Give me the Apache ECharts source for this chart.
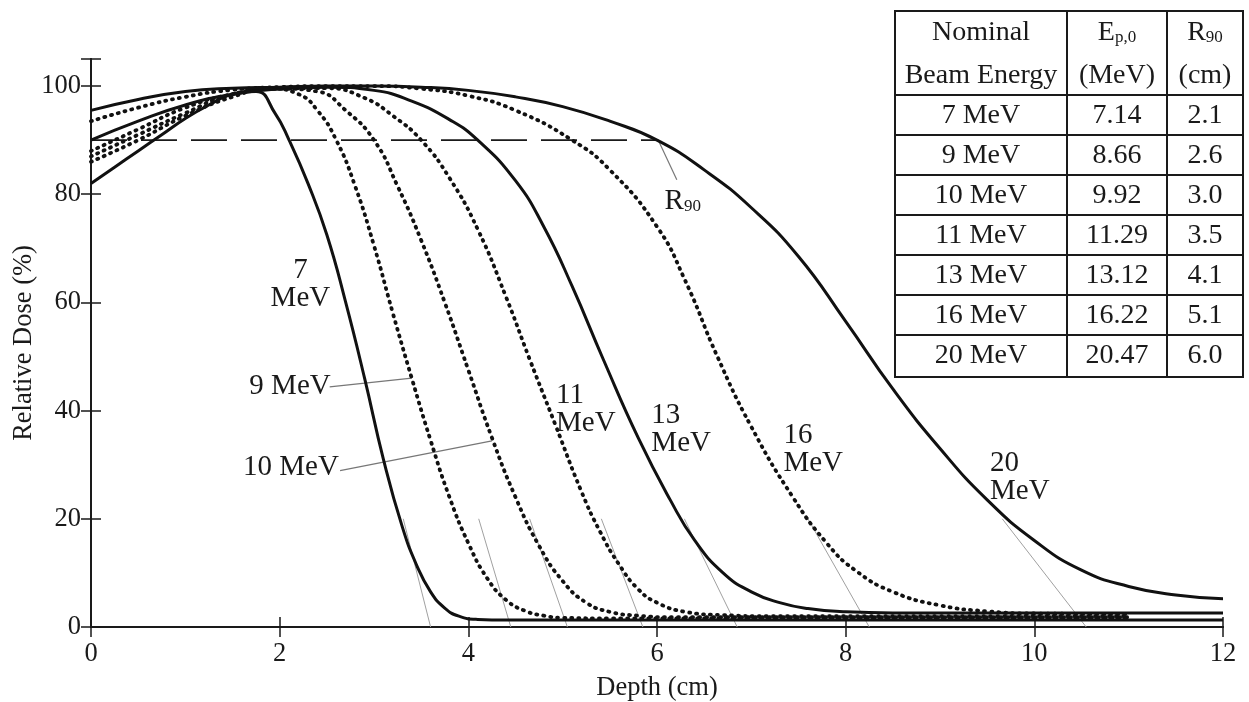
<!DOCTYPE html>
<html><head><meta charset="utf-8">
<script src="https://cdn.jsdelivr.net/npm/echarts@6/dist/echarts.min.js"></script>
<style>html,body{margin:0;padding:0;background:#fff}#chart{width:1249px;height:702px}</style>
</head><body><div id="chart"></div>
<script>
// Depth-dose curves: [depth (cm), relative dose (%)]
const dose7 = [[0,82],[0.25,85],[0.5,88],[0.75,91],[1.0,94],[1.25,96.5],[1.5,98.5],[1.75,99],[1.95,95],[2.1,90],[2.3,82],[2.5,72.5],[2.7,60],[2.9,46],[3.1,31],[3.3,18.5],[3.45,11.5],[3.6,6.5],[3.75,3.5],[3.9,2],[4.1,1.4],[4.4,1.3],[12,1.3]];
const dose9 = [[0,86],[0.5,90],[1.0,94.5],[1.5,98],[1.9,99.5],[2.2,98.5],[2.4,95.5],[2.6,90],[2.8,81.5],[3.0,70.5],[3.2,58],[3.4,46],[3.6,34.5],[3.8,24],[4.0,15.5],[4.2,9],[4.4,5],[4.6,3],[4.8,2.1],[5.0,1.7],[5.5,1.6],[11,1.6]];
const dose10 = [[0,87],[0.5,91],[1.0,95],[1.5,98.5],[2.0,99.5],[2.4,99],[2.7,95.5],[3.0,90],[3.25,81.5],[3.5,71.5],[3.75,60],[4.0,47.5],[4.25,35],[4.5,24],[4.75,15],[5.0,8.5],[5.25,4.5],[5.5,2.8],[5.8,2.1],[6.2,1.8],[11,1.8]];
const dose11 = [[0,88],[0.5,92],[1.0,96],[1.5,98.5],[2.0,99.5],[2.5,99.6],[2.9,97.8],[3.2,94.5],[3.5,90],[3.8,83],[4.1,73.5],[4.4,61],[4.65,49.5],[4.92,37.5],[5.2,25],[5.4,17.5],[5.6,11.5],[5.8,7],[6.0,4.5],[6.3,2.8],[6.7,2.2],[7.2,2.0],[11,2.0]];
const dose13 = [[0,90],[0.5,93.5],[1.0,96.5],[1.5,98.5],[2.0,99.5],[2.5,99.8],[3.0,99.2],[3.4,97.2],[3.8,93.8],[4.1,90],[4.5,82.5],[4.8,74],[5.1,63],[5.43,49.5],[5.8,35],[6.14,23.5],[6.4,16],[6.7,10],[7.0,6.5],[7.3,4.5],[7.6,3.4],[8.0,2.8],[8.5,2.6],[12,2.6]];
const dose16 = [[0,93.5],[0.5,96],[1.0,98],[1.5,99.3],[2.0,99.8],[2.5,100],[3.0,100],[3.5,99.5],[4.0,98.2],[4.5,95.5],[5.1,90],[5.5,84.5],[6.0,74],[6.3,64],[6.64,50],[7.0,37],[7.44,24],[7.8,15.5],[8.1,10.5],[8.5,6.5],[9.0,4],[9.5,2.9],[10,2.5],[11,2.4]];
const dose20 = [[0,95.5],[0.5,97.5],[1.0,99],[1.5,99.6],[2.0,99.8],[2.5,100],[3.0,100],[3.5,99.8],[4.0,99.2],[4.5,98],[5.0,96.2],[5.5,93.5],[6.0,90],[6.5,84.5],[7.0,77.5],[7.5,68.5],[8.0,56.5],[8.5,44],[9.0,33],[9.5,23.5],[10.0,16],[10.5,10.5],[11.0,7.5],[11.5,5.9],[12,5.2]];

// 90 % reference level, drawn out to the deepest R90
const r90Level = [[0,90],[6.0,90]];

// Practical-range extrapolation lines: upper point on each falloff, and Rp on the axis
const rpUpper = [[3.31,20],[4.11,20],[4.65,20],[5.41,20],[6.29,20],[7.6,20],[9.66,20]];
const practicalRange = [3.6,4.45,5.05,5.85,6.85,8.25,10.55];

// Leader lines for annotations
const pointer9 = [[2.53,44.4],[3.40,46.0]];
const pointer10 = [[2.64,28.9],[4.25,34.4]];
const pointerR90 = [[6.01,90.1],[6.21,82.7]];

// In-plot annotations (anchor in data coordinates)
const curveLabels = [
  {text:'7\nMeV', at:[2.22,63.4], align:'center'},
  {text:'9 MeV', at:[2.11,44.4], align:'center'},
  {text:'10 MeV', at:[2.12,29.5], align:'center'},
  {text:'11\nMeV', at:[4.93,40.3], align:'left'},
  {text:'13\nMeV', at:[5.94,36.5], align:'left'},
  {text:'16\nMeV', at:[7.34,32.8], align:'left'},
  {text:'20\nMeV', at:[9.53,27.6], align:'left'},
  {text:'{m|R}{s|90}', at:[6.08,78.6], align:'left'}
];

// Beam data table
const tableHeader = [['Nominal','Beam Energy'],['{m|E}{s|p,0}','(MeV)'],['{m|R}{s|90}','(cm)']];
const tableEnergy = ['7 MeV','9 MeV','10 MeV','11 MeV','13 MeV','16 MeV','20 MeV'];
const tableEp0 = ['7.14','8.66','9.92','11.29','13.12','16.22','20.47'];
const tableR90 = ['2.1','2.6','3.0','3.5','4.1','5.1','6.0'];

const xTicks = {min:0, max:12, interval:2};
const yTicks = {min:0, max:105, interval:20};

const FONT = 'Liberation Serif';
const FS_AXIS = 26.5;
const FS_NOTE = 29;
const FS_TABLE = 28;
const INK = '#1a1a1a';

const curves = [
  {name:'7 MeV', data:dose7, dotted:false},
  {name:'9 MeV', data:dose9, dotted:true},
  {name:'10 MeV', data:dose10, dotted:true},
  {name:'11 MeV', data:dose11, dotted:true},
  {name:'13 MeV', data:dose13, dotted:false},
  {name:'16 MeV', data:dose16, dotted:true},
  {name:'20 MeV', data:dose20, dotted:false}
];

const chart = echarts.init(document.getElementById('chart'), null, {renderer:'canvas'});

const series = [];
// thin gray guides first, so the curves sit on top
practicalRange.forEach((rp, i) => {
  series.push({type:'line', data:[rpUpper[i], [rp,0]], symbol:'none', silent:true,
    lineStyle:{color:'#a0a0a0', width:1}, z:1});
});
[pointer9, pointer10, pointerR90].forEach(p => {
  series.push({type:'line', data:p, symbol:'none', silent:true,
    lineStyle:{color:'#777', width:1.2}, z:1});
});
series.push({type:'line', data:r90Level, symbol:'none', silent:true,
  lineStyle:{color:INK, width:1.6, type:[36,14]}, z:2});
curves.forEach(c => {
  series.push({
    name:c.name, type:'line', data:c.data, symbol:'none', smooth:0.5,
    lineStyle: c.dotted ? {color:'#111', width:3.8, type:[1,6], cap:'round'}
                        : {color:'#111', width:3},
    z:3
  });
});

const axisCommon = {
  axisLine:{lineStyle:{color:INK, width:2}},
  axisTick:{inside:true, length:10, lineStyle:{color:INK, width:1.5}},
  splitLine:{show:false}
};

chart.setOption({
  animation:false,
  backgroundColor:'#fff',
  grid:{left:91, right:26, top:59, bottom:75, containLabel:false, outerBoundsMode:'none'},
  xAxis:[
    Object.assign({type:'value', position:'bottom', min:xTicks.min, max:xTicks.max, interval:xTicks.interval,
      name:'Depth (cm)', nameLocation:'middle', nameGap:48, nameMoveOverlap:false,
      nameTextStyle:{fontFamily:FONT, fontSize:FS_AXIS, color:INK},
      axisLabel:{fontFamily:FONT, fontSize:FS_AXIS, color:INK, margin:14}}, axisCommon),
    Object.assign({type:'value', position:'top', min:xTicks.min, max:xTicks.max, interval:xTicks.interval,
      axisLabel:{show:false}}, axisCommon)
  ],
  yAxis:[
    Object.assign({type:'value', position:'left', min:yTicks.min, max:yTicks.max, interval:yTicks.interval,
      name:'Relative Dose (%)', nameLocation:'middle', nameGap:53, nameMoveOverlap:false,
      nameTextStyle:{fontFamily:FONT, fontSize:FS_AXIS, color:INK},
      axisLabel:{fontFamily:FONT, fontSize:FS_AXIS, color:INK, margin:10, formatter:v => v > 100 ? '' : v}}, axisCommon),
    Object.assign({type:'value', position:'right', min:yTicks.min, max:yTicks.max, interval:yTicks.interval,
      axisLabel:{show:false}}, axisCommon)
  ],
  series:series
});

// annotations placed through the grid's coordinate system
const rich = {
  m:{fontFamily:FONT, fontSize:FS_NOTE, fill:INK},
  s:{fontFamily:FONT, fontSize:17, fill:INK, padding:[10,0,0,0]}
};
const graphic = [];
curveLabels.forEach(l => {
  const p = chart.convertToPixel({gridIndex:0}, l.at);
  graphic.push({type:'text', z:50, style:{x:p[0], y:p[1], text:l.text, fill:INK,
    font:`${FS_NOTE}px "${FONT}"`, lineHeight:28, align:l.align, verticalAlign:'middle', rich:rich}});
});

// table
const T = {left:895, right:1243, top:11, headBottom:95, rowH:40, cols:[895,1067,1167,1243]};
const tableBottom = T.headBottom + T.rowH * tableEnergy.length + 2;
graphic.push({type:'rect', shape:{x:T.left, y:T.top, width:T.right-T.left, height:tableBottom-T.top},
  style:{fill:'#fff', stroke:INK, lineWidth:2}, z:100});
for (let i = 0; i < tableEnergy.length; i++) {
  const y = T.headBottom + T.rowH*i;
  graphic.push({type:'line', shape:{x1:T.left, y1:y, x2:T.right, y2:y}, style:{stroke:INK, lineWidth:2}, z:101});
}
[T.cols[1], T.cols[2]].forEach(x => graphic.push({type:'line', shape:{x1:x, y1:T.top, x2:x, y2:tableBottom},
  style:{stroke:INK, lineWidth:2}, z:101}));
const colCenter = [0,1,2].map(i => (T.cols[i]+T.cols[i+1])/2);
const richHead = {
  m:{fontFamily:FONT, fontSize:FS_TABLE, fill:INK},
  s:{fontFamily:FONT, fontSize:17, fill:INK, padding:[10,0,0,0]}
};
tableHeader.forEach((lines, ci) => {
  [33, 76].forEach((y, li) => {
    graphic.push({type:'text', z:102, style:{x:colCenter[ci], y:y, text:lines[li], fill:INK,
      font:`${FS_TABLE}px "${FONT}"`, align:'center', verticalAlign:'middle', rich:richHead}});
  });
});
[tableEnergy, tableEp0, tableR90].forEach((col, ci) => {
  col.forEach((txt, ri) => {
    graphic.push({type:'text', z:102, style:{x:colCenter[ci], y:T.headBottom + T.rowH*ri + T.rowH/2 + 1,
      text:txt, fill:INK, font:`${FS_TABLE}px "${FONT}"`, align:'center', verticalAlign:'middle'}});
  });
});

chart.setOption({graphic:graphic});
</script></body></html>
